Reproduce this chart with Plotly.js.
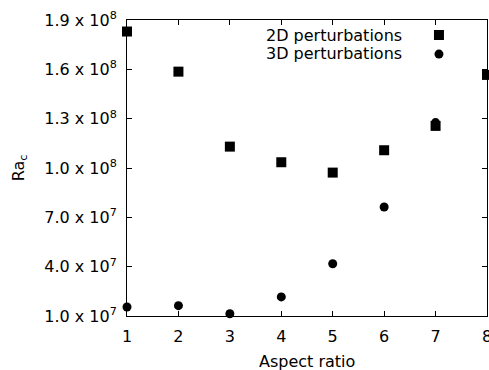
<!DOCTYPE html>
<html><head><meta charset="utf-8">
<script src="https://cdn.plot.ly/plotly-3.0.1.min.js"></script>
<style>html,body{margin:0;padding:0;background:#fff}</style>
</head><body><div id="chart" style="width:489px;height:370px"></div>
<script>
const aspectRatio2D = [1, 2, 3, 4, 5, 6, 7, 8];
const ra2D = [1.83e8, 1.586e8, 1.13e8, 1.035e8, 9.72e7, 1.108e8, 1.256e8, 1.566e8];
const aspectRatio3D = [1, 2, 3, 4, 5, 6, 7];
const ra3D = [1.55e7, 1.63e7, 1.14e7, 2.16e7, 4.18e7, 7.63e7, 1.276e8];
const seriesNames = ['2D perturbations', '3D perturbations'];
const xTitle = 'Aspect ratio';
const xTickVals = [1, 2, 3, 4, 5, 6, 7, 8];
const yTickVals = [1e7, 4e7, 7e7, 1e8, 1.3e8, 1.6e8, 1.9e8];
const yTickText = ['1.0 x 10<sup>7</sup>', '4.0 x 10<sup>7</sup>', '7.0 x 10<sup>7</sup>',
  '1.0 x 10<sup>8</sup>', '1.3 x 10<sup>8</sup>', '1.6 x 10<sup>8</sup>', '1.9 x 10<sup>8</sup>'];

const FONT = 'DejaVu Sans, Liberation Sans, Arial, sans-serif';

const traces = [
  {x: aspectRatio3D, y: ra3D, type: 'scatter', mode: 'markers', name: '',
   marker: {symbol: 'circle', size: 9, color: '#000'}, cliponaxis: false, legendrank: 2},
  {x: aspectRatio2D, y: ra2D, type: 'scatter', mode: 'markers', name: '',
   marker: {symbol: 'square', size: 10, color: '#000'}, cliponaxis: false, legendrank: 1}
];

const axisCommon = {
  showgrid: false, zeroline: false, showline: true, linecolor: '#000', linewidth: 1,
  mirror: 'ticks', ticks: 'inside', ticklen: 5, tickwidth: 1, tickcolor: '#000',
  tickfont: {family: FONT, size: 16, color: '#000'}, ticklabeloverflow: 'allow'
};

const annotations = seriesNames.map((s, i) => ({
  text: s, xref: 'paper', yref: 'paper', x: 0.77, y: [0.949, 0.886][i],
  xanchor: 'right', yanchor: 'middle', showarrow: false,
  font: {family: FONT, size: 16, color: '#000'}
}));
annotations.push({
  text: xTitle, xref: 'paper', yref: 'paper', x: 0.5, y: 0, yshift: -34,
  xanchor: 'center', yanchor: 'top', showarrow: false,
  font: {family: FONT, size: 16, color: '#000'}
});

const layout = {
  width: 489, height: 370,
  margin: {l: 127, r: 2, t: 20, b: 54},
  paper_bgcolor: '#fff', plot_bgcolor: '#fff',
  font: {family: FONT, size: 16, color: '#000'},
  xaxis: Object.assign({}, axisCommon, {
    range: [1, 8], tickvals: xTickVals, ticktext: xTickVals.map(String),
    ticklabelstandoff: 6, automargin: false
  }),
  yaxis: Object.assign({}, axisCommon, {
    range: [1e7, 1.9e8], tickvals: yTickVals, ticktext: yTickText,
    ticklabelstandoff: 6,
    title: {text: 'Ra<sub>c</sub>', font: {family: FONT, size: 16, color: '#000'}, standoff: 15},
    automargin: false
  }),
  showlegend: true,
  legend: {x: 0.811, xanchor: 'left', y: 0.998, yanchor: 'top', bgcolor: 'rgba(0,0,0,0)',
    borderwidth: 0, font: {family: FONT, size: 10}, itemwidth: 30, traceorder: 'normal',
    tracegroupgap: 0},
  annotations: annotations
};

Plotly.newPlot('chart', traces, layout, {displayModeBar: false, staticPlot: true});
</script></body></html>
